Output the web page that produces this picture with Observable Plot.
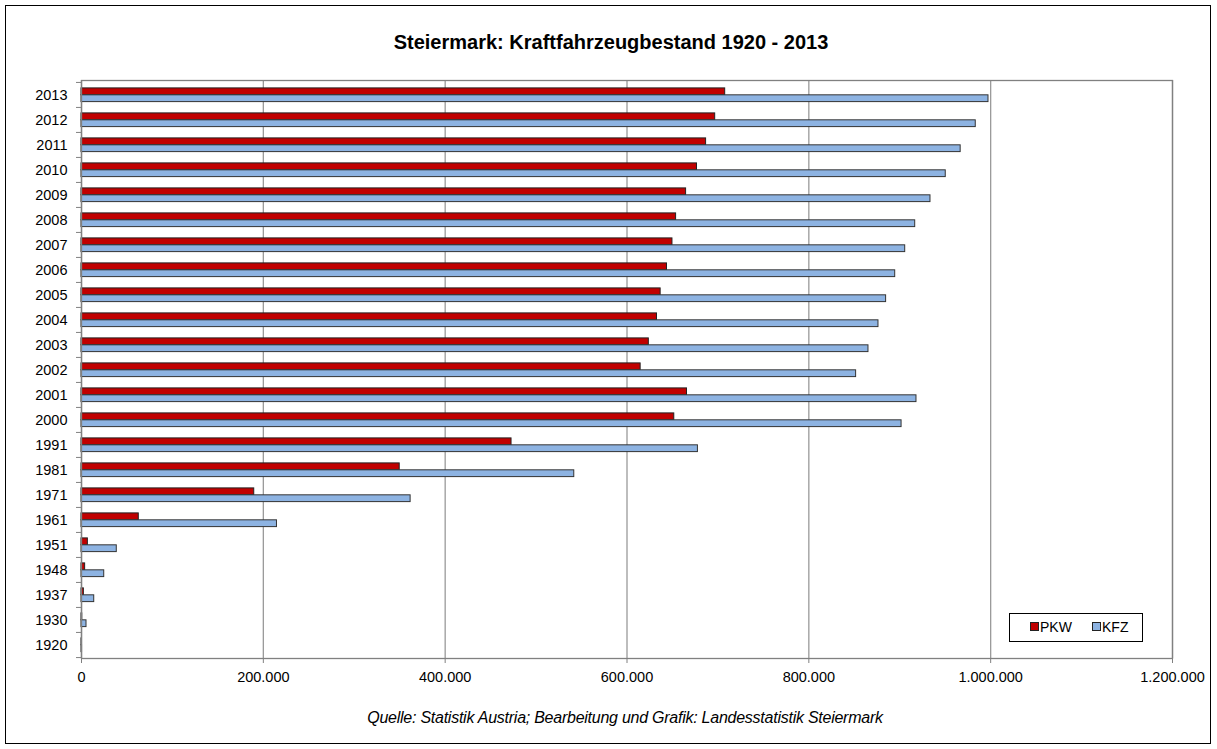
<!DOCTYPE html>
<html>
<head>
<meta charset="utf-8">
<script src="https://cdn.jsdelivr.net/npm/d3@7"></script>
<script src="https://cdn.jsdelivr.net/npm/@observablehq/plot@0.6"></script>
<style>
  html, body { margin: 0; padding: 0; background: #fff; }
  #wrap { position: relative; width: 1217px; height: 749px; font-family: "Liberation Sans", Arial, sans-serif; overflow: hidden; }
  #border { position: absolute; left: 5px; top: 5px; width: 1204px; height: 737px; border: 1.5px solid #000; box-sizing: content-box; pointer-events: none; }
  #title { position: absolute; left: 0; width: 1222px; top: 31px; text-align: center; font-weight: bold; font-size: 20px; color: #000; }
  #caption { position: absolute; left: 0; width: 1250px; top: 709px; text-align: center; font-style: italic; font-size: 16px; color: #000; letter-spacing: -0.25px; }
  #legend { position: absolute; left: 1009px; top: 613px; width: 132px; height: 27px; border: 1.3px solid #000; background: #fff; font-size: 14px; }
  .item { position: absolute; top: 5px; line-height: 17px; }
  .sw { display: inline-block; width: 7px; height: 7px; border: 1px solid #222; margin-right: 1px; vertical-align: 1px; }
  #chart { position: absolute; left: 0; top: 0; }
</style>
</head>
<body>
<div id="wrap">
  <div id="chart"></div>
  <div id="title"></div>
  <div id="caption"></div>
  <div id="legend"></div>
  <div id="border"></div>
</div>
<script>
const titleText = "Steiermark: Kraftfahrzeugbestand 1920 - 2013";
const captionText = "Quelle: Statistik Austria; Bearbeitung und Grafik: Landesstatistik Steiermark";
const seriesNames = ["PKW", "KFZ"];
const seriesColors = ["#C00000", "#8DB3E2"];

const years = ["2013","2012","2011","2010","2009","2008","2007","2006","2005","2004","2003","2002","2001","2000","1991","1981","1971","1961","1951","1948","1937","1930","1920"];
const pkw = [708000, 697000, 687000, 677000, 665000, 654000, 650000, 644000, 637000, 633000, 624000, 615000, 666000, 652000, 473000, 350000, 190000, 63000, 7000, 4000, 2600, 800, 200];
const kfz = [997600, 983600, 967000, 950600, 933800, 917000, 906000, 895000, 885000, 876600, 865600, 852000, 918400, 902000, 678000, 542000, 362000, 215000, 38800, 25000, 14000, 5500, 600];
const xTicks = [0, 200000, 400000, 600000, 800000, 1000000, 1200000];

const deLocale = d3.formatLocale({decimal: ",", thousands: ".", grouping: [3], currency: ["", ""]});
const fmt = deLocale.format(",d");

const rows = years.map((y, i) => ({year: y, pkw: pkw[i], kfz: kfz[i]}));

const W = 1217, H = 749;
const mL = 81, mR = 45, mT = 80, mB = 91;
const bw = (H - mT - mB) / years.length;

const chart = Plot.plot({
  width: W,
  height: H,
  marginLeft: mL,
  marginRight: mR,
  marginTop: mT,
  marginBottom: mB,
  style: {fontFamily: "'Liberation Sans', Arial, sans-serif", fontSize: "14px", color: "#000", background: "transparent"},
  x: {domain: [0, 1200000]},
  y: {domain: years, padding: 0, axis: null},
  marks: [
    Plot.ruleX(xTicks.slice(1), {stroke: "#9a9a9a", strokeWidth: 1.3}),
    Plot.frame({stroke: "#808080", strokeWidth: 1.3}),
    Plot.barX(rows, {y: "year", x: "pkw", fill: seriesColors[0], stroke: "#222", strokeWidth: 1, insetTop: bw * 0.235, insetBottom: bw * 0.49}),
    Plot.barX(rows, {y: "year", x: "kfz", fill: seriesColors[1], stroke: "#333", strokeWidth: 1, insetTop: bw * 0.51, insetBottom: bw * 0.215}),
    Plot.axisX({ticks: xTicks, tickFormat: fmt, tickSize: 5, tickPadding: 8, stroke: "#808080", fill: "#000", fontSize: 14.5, label: null}),
    Plot.axisY({ticks: years, tickSize: 0, tickPadding: 14, fill: "#000", fontSize: 14.5, label: null}),
    Plot.axisY({ticks: years, tickSize: 5, text: null, stroke: "#808080", dy: -bw / 2, label: null}),
    Plot.axisY({ticks: [years[years.length - 1]], tickSize: 5, text: null, stroke: "#808080", dy: bw / 2, label: null}),
    Plot.ruleX([0], {stroke: "#808080", strokeWidth: 1.3})
  ]
});
document.getElementById("chart").appendChild(chart);

document.getElementById("title").textContent = titleText;
document.getElementById("caption").textContent = captionText;
const leg = document.getElementById("legend");
const lx = [20, 82];
seriesNames.forEach((n, i) => {
  const d = document.createElement("div");
  d.className = "item";
  d.style.left = lx[i] + "px";
  const s = document.createElement("span");
  s.className = "sw";
  s.style.background = seriesColors[i];
  d.appendChild(s);
  d.appendChild(document.createTextNode(n));
  leg.appendChild(d);
});
</script>
</body>
</html>
